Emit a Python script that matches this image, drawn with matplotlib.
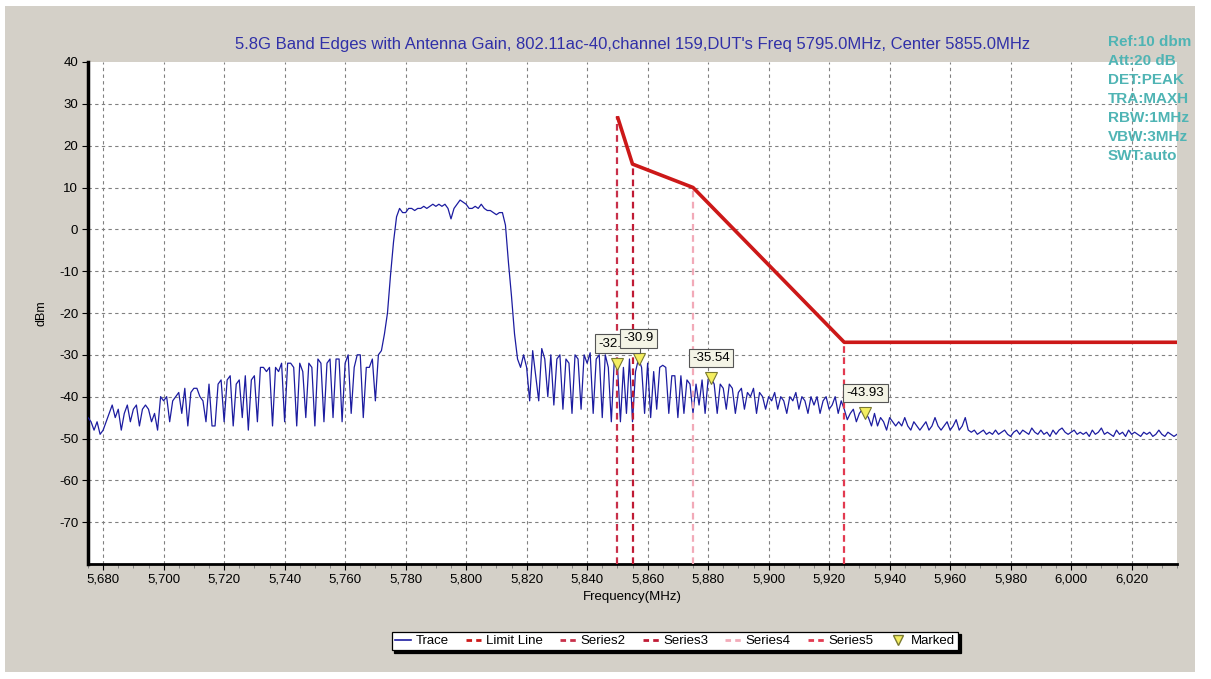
import matplotlib.pyplot as plt
import numpy as np
from matplotlib.lines import Line2D
from matplotlib.patches import Rectangle
from matplotlib.ticker import MultipleLocator, FuncFormatter

plt.rcParams['font.family'] = ['Liberation Sans', 'DejaVu Sans']
plt.rcParams['axes.unicode_minus'] = False

# max-hold trace, 1 MHz per point starting at 5675 MHz
f_start = 5675.0
f_step = 1.0
trace_dbm = [
    -45, -46, -48, -46, -49, -48, -46, -44, -42, -45,        # 5675
    -43, -48, -44, -42, -46, -43, -42, -47, -43, -42,        # 5685
    -43, -46, -44, -48, -40, -41, -40, -46, -41, -40,        # 5695
    -39, -44, -38, -47, -39, -38, -38, -40, -41, -46,        # 5705
    -37, -47, -47, -37, -36, -46, -36, -35, -47, -37,        # 5715
    -36, -45, -35, -48, -36, -35, -46, -33, -33, -34,        # 5725
    -33, -47, -33, -34, -32, -46, -32, -32, -33, -47,        # 5735
    -32, -34, -45, -32, -33, -47, -31, -32, -46, -32,        # 5745
    -31, -45, -31, -31, -46, -32, -30, -44, -33, -30,        # 5755
    -30, -45, -33, -33, -31, -41, -30, -29, -25, -20,        # 5765
    -11, -3, 3, 5, 4, 4, 5, 5, 4.5, 5,                       # 5775
    5, 5.5, 5, 5.5, 6, 5.5, 6, 5.5, 6, 5,                    # 5785
    2.5, 5, 6, 7, 6.5, 6, 5, 5, 5.5, 5,                      # 5795
    6, 5, 4.5, 4.5, 4, 3.5, 4, 4, 1, -8,                     # 5805
    -16, -25, -31, -33, -30, -33, -41, -29, -35, -41,        # 5815
    -28.5, -31, -40, -30, -42, -31, -30, -43, -31, -32,      # 5825
    -44, -30, -31, -43, -30, -32, -29.5, -44, -31, -30,      # 5835
    -45, -30, -33, -46, -31, -32.12, -46, -33, -44, -31,     # 5845
    -46, -34, -30.9, -33, -44, -32, -45, -34, -43, -33,      # 5855
    -32.5, -33, -44, -35, -35, -45, -35, -44, -36, -37,      # 5865
    -44, -37, -42, -36, -44, -35.8, -35.54, -37, -44, -37,   # 5875
    -38, -43, -37, -38, -44, -39, -38, -43, -39, -40,        # 5885
    -38, -44, -39, -40, -43, -40, -41, -39, -43, -40,        # 5895
    -41, -44, -40, -41, -39, -43, -40, -41, -44, -40,        # 5905
    -42, -40, -44, -41, -40, -43, -42, -40, -44, -41,        # 5915
    -43, -45.5, -44, -43, -46, -44, -43, -43.93, -45, -47,   # 5925
    -44, -47, -45, -46, -48, -45, -46, -47, -46, -47,        # 5935
    -45, -47, -48, -46, -47, -48, -47, -46, -48, -47,        # 5945
    -45, -47, -48, -47, -46, -48, -47, -45.5, -48, -47,      # 5955
    -45, -48, -48.5, -48, -49, -48.5, -48, -49, -48.5, -49,  # 5965
    -48, -49, -48.5, -48, -49, -49.5, -48.5, -48, -49, -48,  # 5975
    -48.5, -49, -47.5, -48.5, -49, -48, -49, -48.5, -49.5, -48,  # 5985
    -49, -48, -47.5, -48.5, -49, -48.5, -48, -49, -48.5, -49,    # 5995
    -48.5, -49.5, -48, -49, -48.5, -47.5, -49, -48.5, -49, -49.5,  # 6005
    -48, -49, -48.5, -49.5, -48, -49, -48.5, -49, -49.5, -48.5,    # 6015
    -49, -48.5, -49.5, -49, -48, -49, -49.5, -48.5, -49, -49.5, -49,  # 6025
]
freq = f_start + f_step * np.arange(len(trace_dbm))

# band edge limit mask
limit_freq = [5850, 5855, 5875, 5925, 6035]
limit_dbm = [27, 15.6, 10, -27, -27]

series_freq = [5850, 5855, 5875, 5925]
series_names = ['Series2', 'Series3', 'Series4', 'Series5']
series_colors = ['#c8304a', '#c01a34', '#f2aab8', '#e23a50']

marker_freq = [5850, 5857, 5881, 5932]
marker_dbm = [-32.12, -30.9, -35.54, -43.93]

status_lines = ['Ref:10 dbm', 'Att:20 dB', 'DET:PEAK', 'TRA:MAXH',
                'RBW:1MHz', 'VBW:3MHz', 'SWT:auto']

title = ("5.8G Band Edges with Antenna Gain, 802.11ac-40,channel 159,"
         "DUT's Freq 5795.0MHz, Center 5855.0MHz")

W, H = 1211, 679
fig = plt.figure(figsize=(W / 100, H / 100), dpi=100, facecolor='white')
fig.patches.append(Rectangle((5 / W, 1 - 672 / H), 1190 / W, 666 / H,
                             transform=fig.transFigure, facecolor='#d4d0c8',
                             edgecolor='none', zorder=-10))

ax = fig.add_axes([88 / W, 1 - 564 / H, (1177 - 88) / W, (564 - 62) / H])
ax.set_facecolor('white')

ax.plot(freq, trace_dbm, color='#1c1ca0', lw=0.9, zorder=3)
ax.plot(limit_freq, limit_dbm, color='#cc1818', lw=2.6, zorder=4,
        solid_capstyle='butt')

tops = np.interp(series_freq, limit_freq, limit_dbm)
for fx, top, c in zip(series_freq, tops, series_colors):
    ax.plot([fx, fx], [-80, top], color=c, lw=1.6, ls=(0, (3, 2)), zorder=3.5)

ax.plot(marker_freq, marker_dbm, ls='none', marker='v', ms=8,
        mfc='#f4ee60', mec='#7a7a30', mew=0.8, zorder=6)
for i, (fx, v) in enumerate(zip(marker_freq, marker_dbm)):
    lbl = f'{v:.2f}'.rstrip('0').rstrip('.')
    ax.annotate(lbl, (fx, v), xytext=(0, 14.5), textcoords='offset points',
                ha='center', va='center', fontsize=9.5, zorder=7 + i,
                bbox=dict(boxstyle='square,pad=0.25', fc='#f4f4e6',
                          ec='#555555', lw=0.8))

ax.set_xlim(5675, 6035)
ax.set_ylim(-80, 40)
ax.xaxis.set_major_locator(MultipleLocator(20))
ax.xaxis.set_minor_locator(MultipleLocator(5))
ax.xaxis.set_major_formatter(FuncFormatter(lambda v, p: f'{v:,.0f}'))
ax.set_yticks(np.arange(-70, 41, 10))

ax.grid(True, which='major', color='#808080', lw=0.8, ls=(0, (3, 3)))
ax.yaxis.get_gridlines()[-1].set_visible(False)
ax.set_axisbelow(True)

for side in ('top', 'right'):
    ax.spines[side].set_visible(False)
ax.spines['left'].set_linewidth(2.5)
ax.spines['bottom'].set_linewidth(2)
ax.tick_params(axis='both', which='major', direction='out', length=4,
               width=0.8, labelsize=9.5, pad=3)
ax.tick_params(axis='x', which='minor', direction='out', length=3,
               width=0.6, color='#777777')

ax.set_xlabel('Frequency(MHz)', fontsize=9.5, labelpad=4)
ax.set_ylabel('dBm', fontsize=9, labelpad=8)

fig.text(632.5 / W, 1 - 44 / H, title, ha='center', va='center',
         fontsize=12, color='#3030a8')

for k, s in enumerate(status_lines):
    fig.text(1108 / W, 1 - (42 + 19 * k) / H, s, ha='left', va='center',
             fontsize=11, fontweight='bold', color='#4fb4b4', zorder=10)

handles = [
    Line2D([], [], color='#1c1ca0', lw=1.2),
    Line2D([], [], color='#cc1818', lw=2, ls=(0, (2, 1.5))),
]
handles += [Line2D([], [], color=c, lw=2, ls=(0, (2, 1.5))) for c in series_colors]
handles.append(Line2D([], [], ls='none', marker='v', ms=7, mfc='#f4ee60',
                      mec='#7a7a30'))
labels = ['Trace', 'Limit Line'] + series_names + ['Marked']
leg = fig.legend(handles, labels, loc='center', ncol=7,
                 bbox_to_anchor=(675 / W, 1 - 641 / H), fontsize=9.5,
                 frameon=True, fancybox=False, edgecolor='black',
                 handlelength=1.2, handletextpad=0.35, columnspacing=1.3,
                 borderpad=0.25, shadow={'color': 'black', 'alpha': 1})
leg.get_frame().set_linewidth(0.9)

fig.savefig('out.png', dpi=100, facecolor=fig.get_facecolor())
